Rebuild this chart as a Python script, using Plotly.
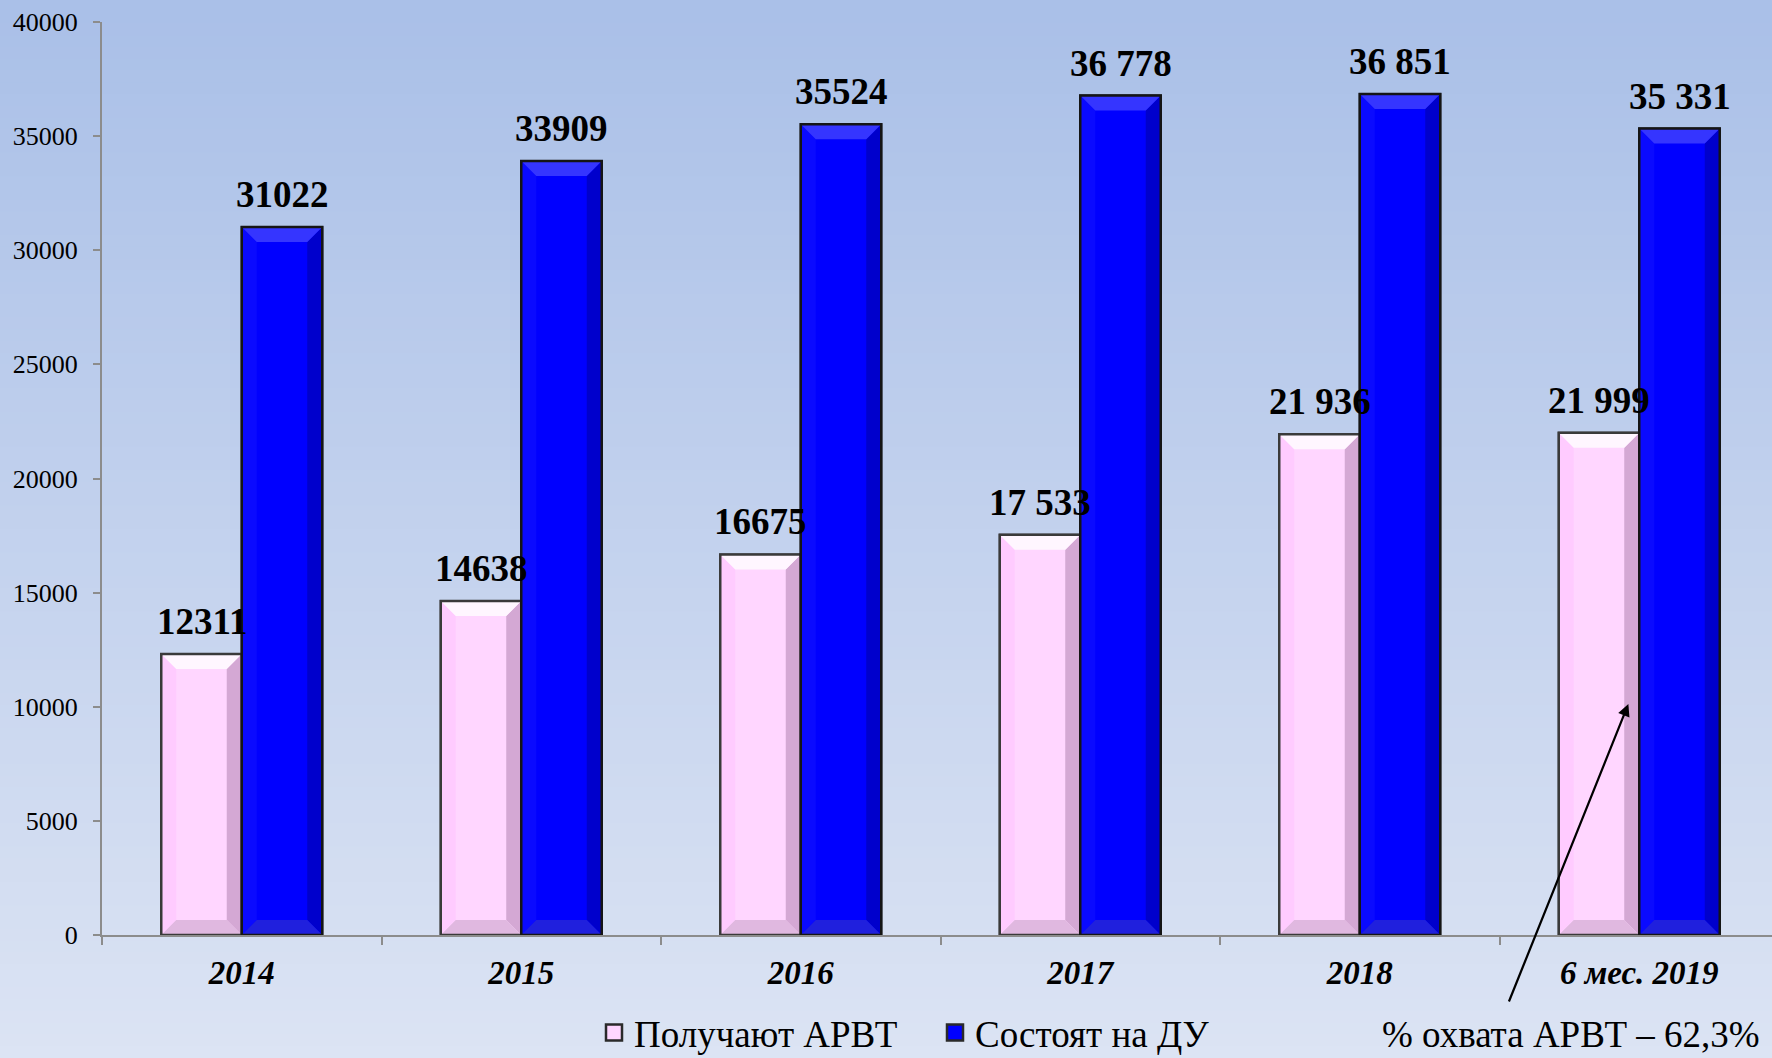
import numpy as np
import plotly.graph_objects as go

# ---------------- data ----------------
categories = ["2014", "2015", "2016", "2017", "2018", "6 мес. 2019"]
arvt_values = [12311, 14638, 16675, 17533, 21936, 21999]
du_values = [31022, 33909, 35524, 36778, 36851, 35331]
arvt_labels = ["12311", "14638", "16675", "17 533", "21 936", "21 999"]
du_labels = ["31022", "33909", "35524", "36 778", "36 851", "35 331"]
series_names = ["Получают АРВТ", "Состоят на ДУ"]
y_ticks = [0, 5000, 10000, 15000, 20000, 25000, 30000, 35000, 40000]
y_tick_labels = ["0", "5000", "10000", "15000", "20000", "25000", "30000", "35000", "40000"]
note_text = "% охвата АРВТ – 62,3%"

# ---------------- layout constants ----------------
W, H = 1772, 1058
ML, MR, MT, MB = 102, 0, 22, 123
PW, PH = W - ML - MR, H - MT - MB
CAT_PX = 279.5
X0 = -0.5
X1 = X0 + PW / CAT_PX
Y_MAX = 40000
BAR_W = 0.288
BEV_PX = 15
dx = BEV_PX / CAT_PX
dy = BEV_PX * Y_MAX / PH
SERIF = "Liberation Serif, Times New Roman, serif"

idx = np.arange(len(categories))

styles = [
    dict(face="#FFD6FF", top="#FFF6FF", left="#FFCBFF", right="#D4A8D4",
         bottom="#E0B8E0", line="#3a3a3a", offset=-BAR_W),
    dict(face="#0000FF", top="#3535FF", left="#0A0AFF", right="#0000CC",
         bottom="#2020DD", line="#151515", offset=0.0),
]

fig = go.Figure()

# background gradient
top_c = np.array([170, 192, 232])
bot_c = np.array([220, 228, 244])
n_bands = 90
y_lo, y_hi = -MB / PH, 1 + MT / PH
for i in range(n_bands):
    t = i / (n_bands - 1)
    c = top_c + (bot_c - top_c) * t
    ya = y_hi + 0.05 if i == 0 else y_hi - (y_hi - y_lo) * i / n_bands
    yb = y_hi - (y_hi - y_lo) * (i + 1) / n_bands
    if i == n_bands - 1:
        yb = y_lo - 0.05
    fig.add_shape(type="rect", xref="paper", yref="paper",
                  x0=-ML / PW - 0.01, x1=1 + 0.01, y0=yb - 0.002, y1=ya,
                  line=dict(width=0),
                  fillcolor="rgb(%d,%d,%d)" % tuple(c.astype(int)),
                  layer="below")

series_vals = [arvt_values, du_values]
series_lbls = [arvt_labels, du_labels]

for s, (vals, name, st) in enumerate(zip(series_vals, series_names, styles)):
    fig.add_trace(go.Bar(
        x=idx, y=vals, name=name, offset=st["offset"], width=BAR_W,
        marker=dict(color=st["face"], line=dict(color=st["line"], width=2)),
        hoverinfo="skip", showlegend=False,
    ))

# bevel faces
for s, (vals, st) in enumerate(zip(series_vals, styles)):
    faces = {"top": ([], []), "right": ([], []), "bottom": ([], []), "left": ([], [])}
    ox, oy = [], []
    for i, v in zip(idx, vals):
        x0 = i + st["offset"]
        x1 = x0 + BAR_W
        polys = {
            "top": [(x0, v), (x1, v), (x1 - dx, v - dy), (x0 + dx, v - dy)],
            "right": [(x1, v), (x1, 0), (x1 - dx, dy), (x1 - dx, v - dy)],
            "bottom": [(x0, 0), (x1, 0), (x1 - dx, dy), (x0 + dx, dy)],
            "left": [(x0, v), (x0, 0), (x0 + dx, dy), (x0 + dx, v - dy)],
        }
        for k, pts in polys.items():
            xs, ys = faces[k]
            xs.extend([p[0] for p in pts] + [pts[0][0], None])
            ys.extend([p[1] for p in pts] + [pts[0][1], None])
        ox.extend([x0, x1, x1, x0, x0, None])
        oy.extend([0, 0, v, v, 0, None])
    for k in ["left", "right", "bottom", "top"]:
        xs, ys = faces[k]
        fig.add_trace(go.Scatter(x=xs, y=ys, mode="lines", fill="toself",
                                 fillcolor=st[k], line=dict(width=0),
                                 showlegend=False, hoverinfo="skip"))
    fig.add_trace(go.Scatter(x=ox, y=oy, mode="lines",
                             line=dict(color=st["line"], width=2.5),
                             showlegend=False, hoverinfo="skip"))

# legend entries (square glyphs)
for name, st in zip(series_names, styles):
    fig.add_trace(go.Scatter(x=[None], y=[None], mode="markers", name=name,
                             marker=dict(symbol="square", size=16,
                                         color=st["face"],
                                         line=dict(color="#2a2a2a", width=2.5)),
                             hoverinfo="skip"))

# value labels
for vals, lbls, st in zip(series_vals, series_lbls, styles):
    for i, v, t in zip(idx, vals, lbls):
        fig.add_annotation(x=i + st["offset"] + BAR_W / 2, y=v, text=t,
                           showarrow=False, yanchor="bottom", yshift=10,
                           font=dict(family=SERIF, size=37, color="black",
                                     weight="bold"))

# note + arrow
fig.add_annotation(xref="paper", yref="paper", x=(1571 - ML) / PW,
                   y=-(1034 - (MT + PH)) / PH, text=note_text, showarrow=False,
                   xanchor="center", yanchor="middle",
                   font=dict(family=SERIF, size=37, color="black"))
fig.add_annotation(x=idx[-1] - 0.039, y=10120, text="", showarrow=True,
                   ax=-120, ay=299, arrowhead=2, arrowsize=1.1,
                   arrowwidth=2.2, arrowcolor="black")

fig.update_layout(
    width=W, height=H,
    margin=dict(l=ML, r=MR, t=MT, b=MB, pad=0, autoexpand=False),
    paper_bgcolor="rgb(220,228,244)",
    plot_bgcolor="rgba(0,0,0,0)",
    barmode="overlay",
    showlegend=True,
    legend=dict(orientation="h", x=(594 - ML) / PW, xanchor="left",
                y=-(1033 - (MT + PH)) / PH, yanchor="middle",
                font=dict(family=SERIF, size=37, color="black"),
                bgcolor="rgba(0,0,0,0)", itemwidth=30, tracegroupgap=0,
                entrywidth=296, entrywidthmode="pixels"),
    xaxis=dict(range=[X0, X1], tickmode="array", tickvals=idx,
               ticktext=categories, ticks="", showgrid=False, zeroline=False,
               showline=True, linecolor="#8c8c8c", linewidth=2,
               ticklabelstandoff=7,
               tickfont=dict(family=SERIF, size=33, color="black",
                             weight="bold", style="italic"),
               minor=dict(tickmode="array",
                          tickvals=list(np.arange(len(categories)) - 0.5),
                          ticks="outside", ticklen=8, tickcolor="#8c8c8c",
                          tickwidth=2, showgrid=False)),
    yaxis=dict(range=[0, Y_MAX], tickmode="array", tickvals=y_ticks,
               ticktext=y_tick_labels,
               ticks="outside", ticklen=7, tickcolor="#8c8c8c", tickwidth=2,
               showline=True, linecolor="#8c8c8c", linewidth=2,
               showgrid=False, zeroline=False, ticklabelstandoff=10,
               tickfont=dict(family=SERIF, size=26, color="black")),
)

fig.write_html("out.html", config={"displayModeBar": False},
               post_script="document.body.style.margin='0';"
                           "document.body.style.overflow='hidden';")
